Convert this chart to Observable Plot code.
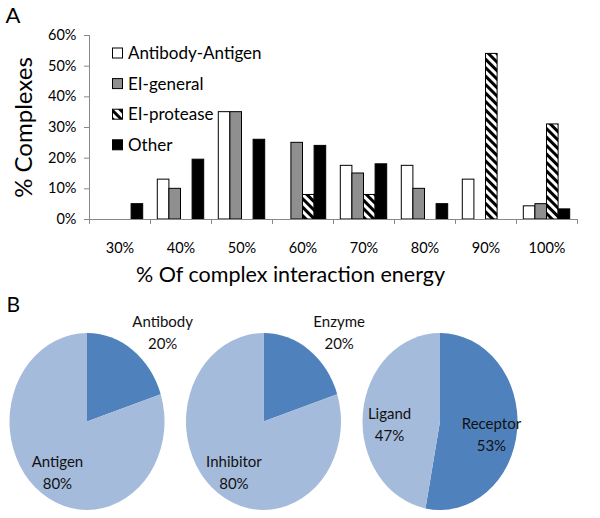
<!DOCTYPE html>
<html><head><meta charset="utf-8">
<script src="https://cdn.jsdelivr.net/npm/d3@7"></script>
<script src="https://cdn.jsdelivr.net/npm/@observablehq/plot@0.6"></script>
<style>
body{margin:0;background:#fff;}
#chart{width:600px;height:518px;overflow:hidden;}
svg{display:block;}
</style></head><body><div id="chart"></div>
<script>
// ---- data: panel A ----
const categories = ["30%","40%","50%","60%","70%","80%","90%","100%"];
const series = ["Antibody-Antigen","EI-general","EI-protease","Other"];
const antibodyAntigen = [0, 13, 35, 0, 17.5, 17.5, 13, 4.3];
const eiGeneral       = [0, 10, 35, 25, 15, 10, 0, 5];
const eiProtease      = [0, 0, 0, 8, 8, 0, 54, 31];
const other           = [5, 19.5, 26, 24, 18, 5, 0, 3.3];
const yTicks = [0, 10, 20, 30, 40, 50, 60];
const yTitle = "% Complexes";
const xTitle = "% Of complex interaction energy";
// ---- data: panel B ----
const pieGroups = ["Antibody/Antigen","Enzyme/Inhibitor","Receptor/Ligand"];
const pieSlices = [["Antibody","Antigen"],["Enzyme","Inhibitor"],["Receptor","Ligand"]];
const pieValues = [[20, 80],[20, 80],[53, 47]];

// ---- layout / style ----
const FONT = "Lato, 'Open Sans', sans-serif";
const W = 600, H1 = 290, H2 = 228;
const mL = 89, mR = 23, mT = 35, mB = H1 - 219;
const bw = (W - mL - mR) / categories.length;
const slotPad = 7.3, slotW = 11.6;
const seriesValues = [antibodyAntigen, eiGeneral, eiProtease, other];
const seriesFill = ["white", "#8f8f8f", "url(#hatch)", "black"];
const axisGray = "#888";

const table = series.flatMap((s, i) => categories.map((c, j) => ({series: s, cat: c, value: seriesValues[i][j]})));

function defsMark() {
  const defs = d3.create("svg:defs");
  const p = defs.append("pattern").attr("id", "hatch").attr("patternUnits", "userSpaceOnUse")
    .attr("width", 6).attr("height", 6).attr("patternTransform", "rotate(-45)");
  p.append("rect").attr("width", 6).attr("height", 6).attr("fill", "white");
  p.append("rect").attr("width", 3).attr("height", 6).attr("fill", "black");
  return defs.node();
}
function legendMark() {
  const g = d3.create("svg:g").attr("text-anchor", "start");
  series.forEach((s, i) => {
    const y = 53 + i * 30.6;
    g.append("rect").attr("x", 112.5).attr("y", y - 5).attr("width", 10).attr("height", 10)
      .attr("fill", seriesFill[i]).attr("stroke", "black");
    g.append("text").attr("x", 128).attr("y", y).attr("dy", "0.36em").attr("text-anchor", "start")
      .attr("font-size", 17).attr("fill", "black").text(s);
  });
  return g.node();
}

const bars = series.map((s, i) => Plot.barY(table.filter(d => d.series === s && d.value > 0), {
  x: "cat", y: "value", fill: seriesFill[i], stroke: "black", strokeWidth: 1,
  insetLeft: slotPad + slotW * i, insetRight: bw - slotPad - slotW * (i + 1)
}));

const chartA = Plot.plot({
  width: W, height: H1,
  marginLeft: mL, marginRight: mR, marginTop: mT, marginBottom: mB,
  style: {fontFamily: FONT, fontSize: "14.5px", color: "black", background: "white"},
  x: {type: "band", domain: categories, padding: 0, axis: null},
  y: {domain: [0, 60], axis: null},
  marks: [
    defsMark,
    ...bars,
    Plot.ruleY([0], {stroke: axisGray}),
    Plot.ruleX([categories[0]], {dx: -bw / 2, stroke: axisGray}),
    Plot.ruleX(categories, {dx: -bw / 2, y1: 0, y2: -1.6, stroke: axisGray}),
    Plot.ruleX([categories[categories.length - 1]], {dx: bw / 2, y1: 0, y2: -1.6, stroke: axisGray}),
    Plot.axisY({ticks: yTicks, tickFormat: d => d + "%", tickSize: 5, tickPadding: 8, stroke: axisGray, fill: "black", fontSize: 14.5, label: null}),
    Plot.axisX({tickSize: 0, tickPadding: 23, fill: "black", fontSize: 14.5, label: null}),
    legendMark,
    Plot.text([yTitle], {text: d => d, frameAnchor: "left", textAnchor: "middle", dx: -65, rotate: -90, fontSize: 24, fill: "black"}),
    Plot.text([xTitle], {text: d => d, frameAnchor: "bottom", textAnchor: "middle", dx: -43, dy: 62, fontSize: 21.5, fill: "black"}),
    Plot.text(["A"], {text: d => d, frameAnchor: "top-left", dx: 5 - mL, dy: 7 - mT, textAnchor: "start", lineAnchor: "top", fontSize: 22, fill: "black"})
  ]
});

// ---- panel B ----
const RX = 77.5, RY = 88.5, CY = 131.5;
const pieColors = ["#4F81BD", "#A5BBDB"];
const xPie = Plot.scale({x: {type: "point", domain: pieGroups, range: [87, 440], padding: 0}});

const pieArcs = pieGroups.map((g, gi) => d3.pie().sort(null)(pieValues[gi]));
const labelRows = pieGroups.flatMap((g, gi) => {
  const cx = xPie.apply(g);
  const total = d3.sum(pieValues[gi]);
  return pieArcs[gi].map((a, si) => {
    const mid = (a.startAngle + a.endAngle) / 2;
    const outside = a.value / total < 0.25;
    const kx = outside ? 1.65 : 0.66, ky = outside ? 1.27 : 0.6;
    return {
      px: cx + Math.sin(mid) * RX * kx,
      py: CY - Math.cos(mid) * RY * ky + (outside ? 0 : 6),
      label: pieSlices[gi][si] + "\n" + pieValues[gi][si] + "%"
    };
  });
});

function piesMark() {
  const g = d3.create("svg:g");
  const arc = d3.arc().innerRadius(0).outerRadius(RX);
  pieGroups.forEach((grp, gi) => {
    const gg = g.append("g").attr("transform", `translate(${xPie.apply(grp)},${CY}) scale(1,${RY / RX})`);
    gg.selectAll("path").data(pieArcs[gi]).join("path").attr("d", arc).attr("fill", (d, i) => pieColors[i]);
  });
  return g.node();
}

const chartB = Plot.plot({
  width: W, height: H2, margin: 0,
  style: {fontFamily: FONT, color: "black", background: "white"},
  x: {type: "identity", axis: null},
  y: {type: "identity", axis: null},
  marks: [
    piesMark,
    Plot.text(labelRows, {x: "px", y: "py", text: "label", fontSize: 15, lineHeight: 1.45, fill: "#111"}),
    Plot.text(["B"], {text: d => d, frameAnchor: "top-left", dx: 6, dy: 7, textAnchor: "start", lineAnchor: "top", fontSize: 21, fill: "black"})
  ]
});

const root = document.getElementById("chart");
root.append(chartA, chartB);
</script>
</body></html>
